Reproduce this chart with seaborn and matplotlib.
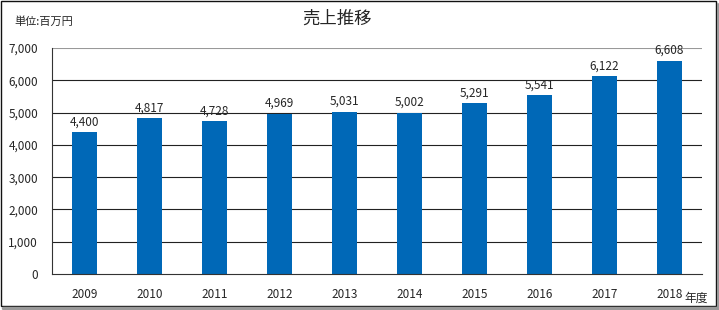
import matplotlib
matplotlib.use("Agg")
import matplotlib.pyplot as plt
import seaborn as sns
import pandas as pd
from matplotlib.patches import Rectangle
from matplotlib.lines import Line2D

years = ["2009", "2010", "2011", "2012", "2013", "2014", "2015", "2016", "2017", "2018"]
sales = [4400, 4817, 4728, 4969, 5031, 5002, 5291, 5541, 6122, 6608]
yticks = [0, 1000, 2000, 3000, 4000, 5000, 6000, 7000]

sns.set_style("white")
plt.rcParams['font.family'] = ['Noto Sans CJK JP', 'DejaVu Sans']

df = pd.DataFrame({"year": years, "sales": sales})

fig = plt.figure(figsize=(7.19, 3.10), dpi=100)
ax = fig.add_axes([52/719, 1-274/310, (702-52)/719, (274-48)/310])

sns.barplot(data=df, x="year", y="sales", color="#0068b7", saturation=1,
            width=0.39, ax=ax, edgecolor="none")

ax.set_ylim(0, 7000)
ax.set_xlim(-0.5, len(years)-0.5)
ax.set_yticks(yticks)
ax.set_yticklabels([f"{v:,}" for v in yticks], fontsize=8.5)
ax.set_xticks(range(len(years)))
ax.set_xticklabels(years, fontsize=8.5)
ax.tick_params(axis='x', length=0, pad=10)
ax.tick_params(axis='y', length=4, width=0.8, color="#333333", pad=6)
ax.set_xticks([i + 0.5 for i in range(-1, len(years))], minor=True)
ax.tick_params(axis='x', which='minor', length=4, width=0.8, color="#333333")

for v in yticks[1:-1]:
    ax.axhline(v, color="#222222", lw=0.8, zorder=0)
ax.axhline(7000, color="#999999", lw=1.5, zorder=0)

for s in ["top", "right"]:
    ax.spines[s].set_visible(False)
ax.spines["left"].set_color("#333333")
ax.spines["left"].set_linewidth(0.8)
ax.spines["bottom"].set_color("#333333")
ax.spines["bottom"].set_linewidth(0.8)

ax.set_xlabel("")
ax.set_ylabel("")

for i, v in enumerate(sales):
    ax.text(i, v + 110, f"{v:,}", ha="center", va="bottom", fontsize=8.5)

fig.text(337/719, 1-19/310, "売上推移", ha="center", va="center", fontsize=12.5)
fig.text(14/719, 1-22/310, "単位:百万円", ha="left", va="center", fontsize=8)
fig.text(684/719, 1-298/310, "年度", ha="left", va="center", fontsize=8.5)

# frame: thin dark outline with gray shadow at bottom and right
fig.lines.append(Line2D([3/719, 718/719], [2/310, 2/310], transform=fig.transFigure,
                        color="#999999", lw=2.5))
fig.lines.append(Line2D([718/719, 718/719], [2/310, 306/310], transform=fig.transFigure,
                        color="#999999", lw=1.5))
fig.patches.append(Rectangle((1/719, 4/310), 715/719, 305/310, transform=fig.transFigure,
                             fill=False, edgecolor="#111111", lw=1.0, zorder=1))

fig.savefig("out.png", dpi=100)
